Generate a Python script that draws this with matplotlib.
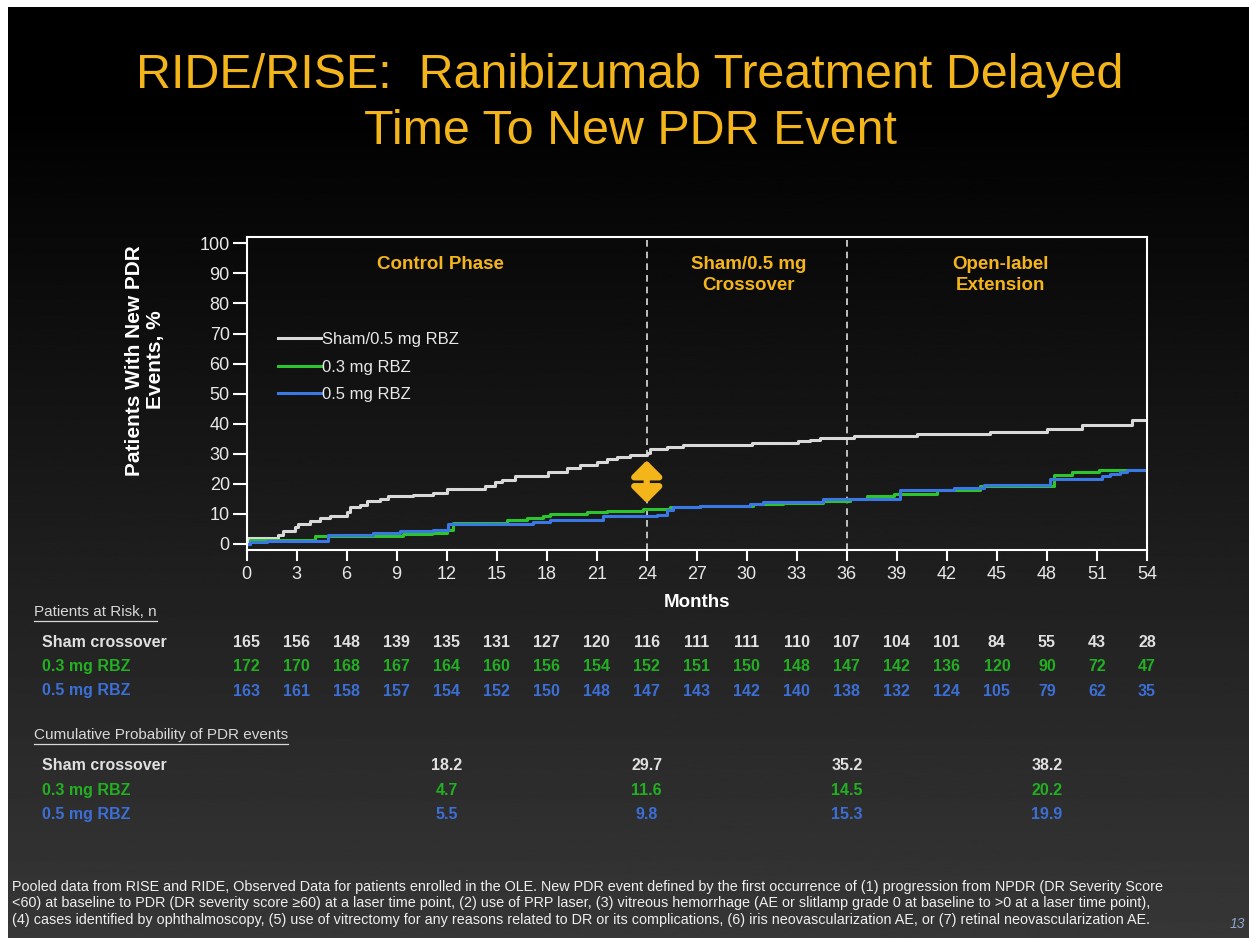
import numpy as np
import matplotlib
matplotlib.use('Agg')
import matplotlib.pyplot as plt
import matplotlib.transforms as mtransforms
from matplotlib.lines import Line2D
from matplotlib.patches import FancyArrowPatch

plt.rcParams['font.family'] = ['Liberation Sans', 'DejaVu Sans']

# ---- datos ----
sham_m = [0, 0.1, 1.9, 2.2, 2.9, 3.1, 3.8, 4.4, 5.0, 6.0, 6.2, 6.8, 7.2, 8.0, 8.5, 10.0, 11.2,
          12.0, 14.3, 14.9, 15.3, 16.1, 18.1, 19.2, 20.0, 21.0, 21.6, 22.2, 23.0, 24.0, 24.2,
          25.2, 26.2, 30.3, 33.1, 33.8, 34.4, 36.4, 40.2, 44.6, 48.0, 50.1, 53.1, 54]
sham_v = [0, 2.0, 3.1, 4.2, 5.8, 6.7, 7.8, 8.6, 9.4, 10.8, 12.3, 13.1, 14.2, 15.0, 15.8, 16.2, 17.1,
          18.2, 19.4, 20.5, 21.4, 22.7, 24.1, 25.2, 26.3, 27.4, 28.2, 28.9, 29.7, 30.4, 31.5,
          32.4, 33.0, 33.6, 34.1, 34.7, 35.4, 36.0, 36.6, 37.4, 38.2, 39.6, 41.3, 41.3]

rbz03_m = [0, 0.2, 4.1, 9.4, 11.1, 12.0, 12.4, 15.6, 16.8, 17.8, 18.2, 20.4, 21.6, 23.8, 25.4,
           27.2, 30.4, 32.2, 34.6, 36.2, 37.2, 38.8, 41.4, 44.0, 48.4, 49.5, 51.1, 54]
rbz03_v = [0, 1.2, 2.5, 3.2, 3.8, 4.8, 7.0, 8.1, 8.6, 9.4, 10.0, 10.5, 11.1, 11.6, 12.3,
           12.7, 13.2, 13.6, 14.2, 15.0, 16.0, 16.5, 17.8, 19.2, 23.0, 23.8, 24.7, 24.7]

rbz05_m = [0, 0.2, 1.2, 4.9, 7.6, 9.2, 11.2, 12.1, 17.2, 18.2, 21.4, 24.6, 25.2, 25.6, 27.2,
           30.2, 31.0, 34.6, 39.2, 42.4, 44.2, 48.2, 51.3, 51.8, 52.4, 52.8, 54]
rbz05_v = [0, 0.5, 1.0, 3.0, 3.6, 4.2, 4.8, 6.6, 7.2, 8.1, 9.2, 9.8, 11.4, 12.3, 12.7,
           13.4, 14.0, 15.1, 17.8, 18.6, 19.7, 21.6, 22.5, 23.4, 24.1, 24.7, 24.7]

meses_riesgo = list(range(0, 55, 3))
riesgo_sham = [165, 156, 148, 139, 135, 131, 127, 120, 116, 111, 111, 110, 107, 104, 101, 84, 55, 43, 28]
riesgo_03 = [172, 170, 168, 167, 164, 160, 156, 154, 152, 151, 150, 148, 147, 142, 136, 120, 90, 72, 47]
riesgo_05 = [163, 161, 158, 157, 154, 152, 150, 148, 147, 143, 142, 140, 138, 132, 124, 105, 79, 62, 35]

meses_prob = [12, 24, 36, 48]
prob_sham = ['18.2', '29.7', '35.2', '38.2']
prob_03 = ['4.7', '11.6', '14.5', '20.2']
prob_05 = ['5.5', '9.8', '15.3', '19.9']

nombres = ['Sham/0.5 mg RBZ', '0.3 mg RBZ', '0.5 mg RBZ']
filas = ['Sham crossover', '0.3 mg RBZ', '0.5 mg RBZ']

ORO = '#F4B51A'
BLANCO = '#D9D9D9'
VERDE = '#2DC52D'
AZUL = '#3A78E6'
VERDE_TXT = '#22B022'
AZUL_TXT = '#3C6FD6'

W, H = 1249, 938
fig = plt.figure(figsize=(W / 100, H / 100), dpi=100, facecolor='white')


def fx(px):
    return px / W


def fy(py):
    return 1 - py / H


# fondo degradado
bg = fig.add_axes([fx(8), 0, 1 - fx(8), fy(7)])
grad = np.clip((np.linspace(0, 1, 400) - 0.1) / 0.9, 0, 1)[:, None]
bg.imshow(grad * 0.215, cmap='gray', vmin=0, vmax=1, aspect='auto', extent=[0, 1, 0, 1])
bg.set_axis_off()

# titulo
fig.text(fx(630), fy(76), 'RIDE/RISE:  Ranibizumab Treatment Delayed', color=ORO,
         fontsize=34.8, ha='center', va='center')
fig.text(fx(630), fy(132), 'Time To New PDR Event', color=ORO,
         fontsize=34.8, ha='center', va='center')

# grafico principal
ax = fig.add_axes([fx(246.5), fy(550), fx(1147) - fx(246.5), fy(236.7) - fy(550)])
ax.set_facecolor('none')
ax.step(sham_m, sham_v, where='post', color=BLANCO, lw=2.2, label=nombres[0])
ax.step(rbz03_m, rbz03_v, where='post', color=VERDE, lw=2.2, label=nombres[1])
ax.step(rbz05_m, rbz05_v, where='post', color=AZUL, lw=2.2, label=nombres[2])

ax.set_xlim(0, 54)
ax.set_ylim(-2, 102.2)
ax.set_xticks(range(0, 55, 3))
ax.set_yticks(range(0, 101, 10))
for s in ax.spines.values():
    s.set_color('white')
    s.set_linewidth(1.5)
ax.tick_params(colors='white', labelcolor='#E8E8E8', labelsize=13, width=1.5, length=8)
ax.tick_params(axis='y', length=10, pad=2)

for xv in [24, 36]:
    ax.axvline(xv, color='#DDDDDD', lw=1.2, ls=(0, (4, 3)), zorder=1)

ax.set_xlabel('Months', color='white', fontsize=13.5, fontweight='bold', labelpad=8)
ax.set_ylabel('Patients With New PDR\nEvents, %', color='white', fontsize=15,
              fontweight='bold', linespacing=1.1)
ax.yaxis.set_label_coords(-0.091, 0.606)

ax.text(11.6, 93, 'Control Phase', color=ORO, fontsize=13.5, fontweight='bold',
        ha='center', va='center')
ax.text(30.1, 89.5, 'Sham/0.5 mg\nCrossover', color=ORO, fontsize=13.5, fontweight='bold',
        ha='center', va='center', linespacing=1.25)
ax.text(45.2, 89.5, 'Open-label\nExtension', color=ORO, fontsize=13.5, fontweight='bold',
        ha='center', va='center', linespacing=1.25)

leg = ax.legend(loc='upper left', bbox_to_anchor=(0.035, 0.695), frameon=False,
                fontsize=12, handlelength=2.6, handletextpad=0.05, labelspacing=0.75,
                borderpad=0, borderaxespad=0)
for t in leg.get_texts():
    t.set_color('#E8E8E8')

flecha = FancyArrowPatch((24, 13.6), (24, 27.8), arrowstyle='<|-|>,head_width=0.45,head_length=0.45',
                         mutation_scale=20, lw=4.5, color=ORO, shrinkA=0, shrinkB=0, zorder=6)
ax.add_patch(flecha)

# tablas
tr = mtransforms.blended_transform_factory(ax.transData, fig.transFigure)
col_filas = ['#E0E0E0', VERDE_TXT, AZUL_TXT]


def encabezado(texto, y):
    t = fig.text(fx(34), fy(y), texto, color='#D8D8D8', fontsize=11, ha='left', va='baseline')
    fig.canvas.draw()
    bb = t.get_window_extent().transformed(fig.transFigure.inverted())
    fig.add_artist(Line2D([bb.x0, bb.x1], [bb.y0 - 0.0025, bb.y0 - 0.0025],
                          transform=fig.transFigure, color='#D8D8D8', lw=0.9))


encabezado('Patients at Risk, n', 616)
for fila, valores, c, y in zip(filas, [riesgo_sham, riesgo_03, riesgo_05], col_filas, [642, 666, 691]):
    fig.text(fx(42), fy(y), fila, color=c, fontsize=11.5, fontweight='bold', ha='left', va='center')
    for m, v in zip(meses_riesgo, valores):
        fig.text(m, fy(y), str(v), transform=tr, color=c, fontsize=11.5, fontweight='bold',
                 ha='center', va='center')

encabezado('Cumulative Probability of PDR events', 739)
for fila, valores, c, y in zip(filas, [prob_sham, prob_03, prob_05], col_filas, [765, 790, 814]):
    fig.text(fx(42), fy(y), fila, color=c, fontsize=11.5, fontweight='bold', ha='left', va='center')
    for m, v in zip(meses_prob, valores):
        fig.text(m, fy(y), v, transform=tr, color=c, fontsize=11.5, fontweight='bold',
                 ha='center', va='center')

# nota al pie
nota = ('Pooled data from RISE and RIDE, Observed Data for patients enrolled in the OLE. New PDR event '
        'defined by the first occurrence of (1) progression from NPDR (DR Severity Score\n'
        '<60) at baseline to PDR (DR severity score \u226560) at a laser time point, (2) use of PRP laser, '
        '(3) vitreous hemorrhage (AE or slitlamp grade 0 at baseline to >0 at a laser time point),\n'
        '(4) cases identified by ophthalmoscopy, (5) use of vitrectomy for any reasons related to DR or '
        'its complications, (6) iris neovascularization AE, or (7) retinal neovascularization AE.')
fig.text(fx(12), fy(880), nota, color='#EEEEEE', fontsize=10.4, ha='left', va='top', linespacing=1.22)
fig.text(fx(1237), fy(924), '13', color='#8EA8CC', fontsize=10, style='italic', ha='center', va='center')

fig.savefig('out.png', dpi=100, facecolor=fig.get_facecolor())
